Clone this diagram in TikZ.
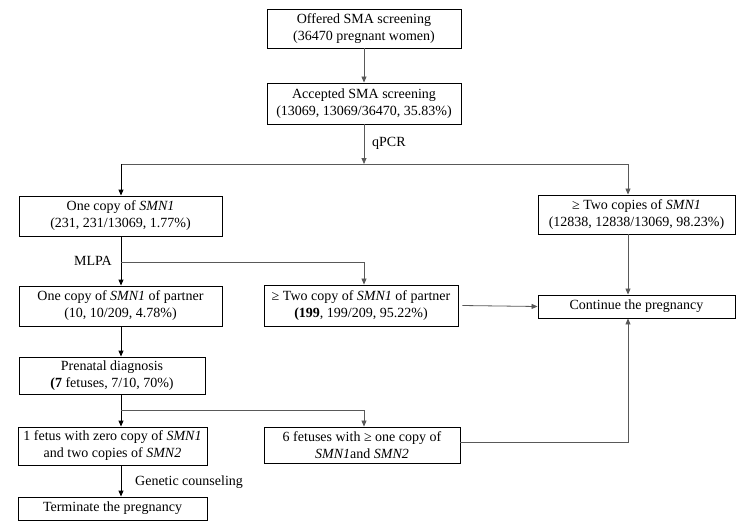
\documentclass[tikz,border=0pt]{standalone}
\usepackage{fontspec}
\setmainfont{Liberation Serif}
\usetikzlibrary{arrows.meta}
\tikzset{
  box/.style={draw=black, line width=0.9pt, inner sep=0pt, align=center, font=\fontsize{14}{17}\selectfont},
  lbl/.style={inner sep=0pt, font=\fontsize{14}{17}\selectfont},
  conn/.style={draw=black!65, line width=0.8pt},
  mainconn/.style={draw=black, line width=0.9pt},
  arr/.style={-{Triangle[length=6pt,width=5pt]}},
}
\begin{document}
\begin{tikzpicture}[x=1pt,y=-1pt]
\useasboundingbox (0,0) rectangle (749,523);
\node[box, minimum width=194pt, minimum height=39pt] (b1) at (364,28.5) {Offered SMA screening\\(36470 pregnant women)};
\node[box, minimum width=194pt, minimum height=41pt] (b2) at (364,103.5) {Accepted SMA screening\\(13069, 13069/36470, 35.83\%)};
\node[box, minimum width=203pt, minimum height=40pt] (b3) at (120.5,216) {One copy of \textit{SMN1}\\(231, 231/13069, 1.77\%)};
\node[box, minimum width=197pt, minimum height=39pt] (b4) at (636.5,214.5) {≥ Two copies of \textit{SMN1}\\(12838, 12838/13069, 98.23\%)};
\node[box, minimum width=203pt, minimum height=40pt] (b5) at (120.5,306) {One copy of \textit{SMN1} of partner\\(10, 10/209, 4.78\%)};
\node[box, minimum width=194pt, minimum height=41pt] (b6) at (361,305.5) {≥ Two copy of \textit{SMN1} of partner\\\textbf{(199}, 199/209, 95.22\%)};
\node[box, minimum width=197pt, minimum height=23pt] (b11) at (636.5,306.5) {Continue the pregnancy};
\node[box, minimum width=186pt, minimum height=37pt] (b7) at (112,375.5) {Prenatal diagnosis\\\textbf{(7} fetuses, 7/10, 70\%)};
\node[box, minimum width=189pt, minimum height=38pt] (b8) at (112.5,446) {1 fetus with zero copy of \textit{SMN1}\\and two copies of \textit{SMN2}};
\node[box, minimum width=196pt, minimum height=36pt] (b9) at (362,445) {6 fetuses with ≥ one copy of\\\textit{SMN1}and \textit{SMN2}};
\node[box, minimum width=189pt, minimum height=23pt] (b10) at (112.5,508.5) {Terminate the pregnancy};

\coordinate (q1) at (364,164);
\coordinate (qL) at (121,164);
\coordinate (qR) at (628,164);
\coordinate (m1) at (121,262);
\coordinate (mR) at (364,262);
\coordinate (p1) at (121,410);
\coordinate (pR) at (364,410);
\coordinate (r1) at (628,442);

\node[lbl, anchor=west] (tq) at (372,143) {qPCR};
\node[lbl, anchor=east] (tm) at (112,261) {MLPA};
\node[lbl, anchor=west] (tg) at (135,482) {Genetic counseling};

\draw[conn, arr] (b1.south) -- (b2.north);
\draw[conn, arr] (b2.south) -- (q1);
\draw[conn] (qL) -- (qR);
\draw[mainconn, arr] (qL) -- (qL |- b3.north);
\draw[conn, arr] (qR) -- (qR |- b4.north);
\draw[mainconn, arr] (qL |- b3.south) -- (qL |- b5.north);
\draw[conn, arr] (m1) -- (mR) -- (mR |- b6.north);
\draw[conn, arr] (qR |- b4.south) -- (qR |- b11.north);
\draw[conn, arr] (b6.east) ++(4,0) -- (b11.west);
\draw[mainconn, arr] (qL |- b5.south) -- (qL |- b7.north);
\draw[mainconn, arr] (qL |- b7.south) -- (qL |- b8.north);
\draw[conn, arr] (p1) -- (pR) -- (pR |- b9.north);
\draw[conn, arr] (b9.east |- r1) -- (r1) -- (r1 |- b11.south);
\draw[mainconn, arr] (qL |- b8.south) -- (qL |- b10.north);
\end{tikzpicture}
\end{document}
